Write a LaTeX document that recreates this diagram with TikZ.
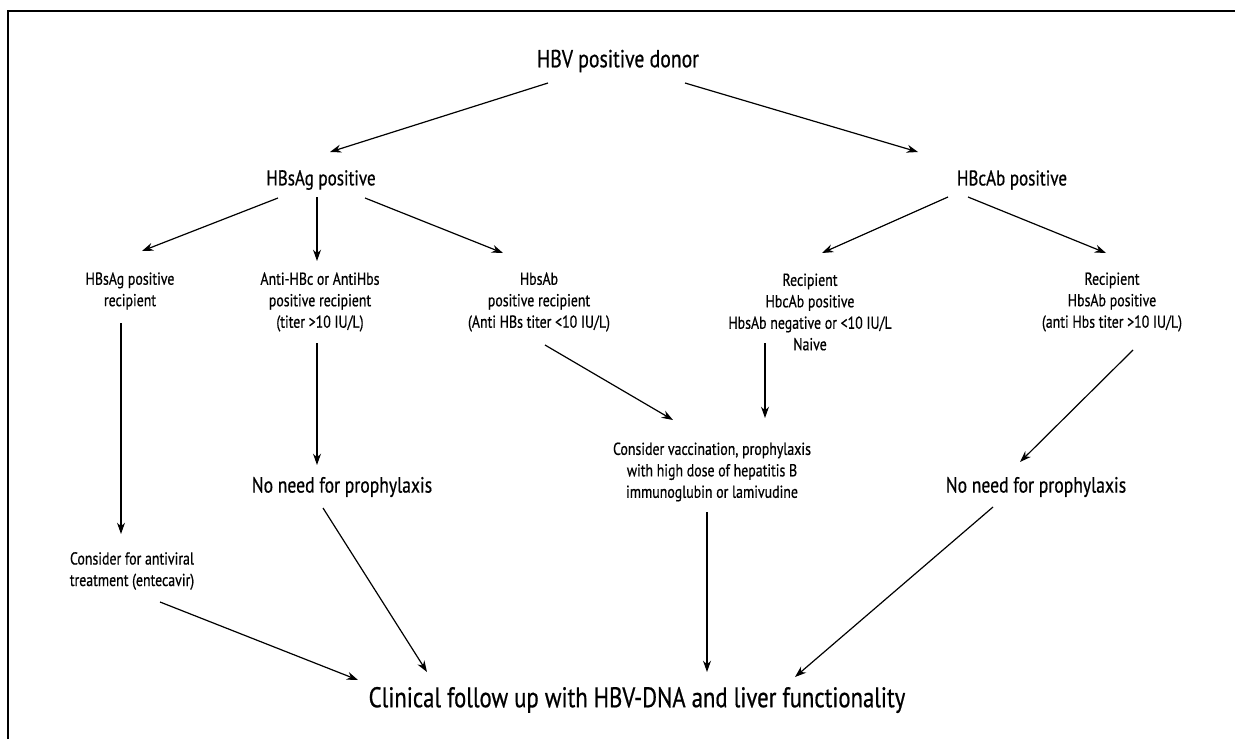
\documentclass[tikz,border=0pt]{standalone}
\usepackage{fontspec}
\setmainfont[FakeStretch=0.8,FakeBold=0.6]{PT Sans}
\usetikzlibrary{arrows.meta}
\begin{document}
\begin{tikzpicture}[x=0.75pt,y=-0.75pt,
  small/.style={inner sep=0pt,align=center,font=\fontsize{13}{16.1}\selectfont},
  top/.style={inner sep=0pt,font=\fontsize{18.5}{22}\selectfont},
  big/.style={inner sep=0pt,font=\fontsize{21.3}{25}\selectfont},
  mid/.style={inner sep=0pt,font=\fontsize{16}{19}\selectfont},
  noneed/.style={inner sep=0pt,font=\fontsize{16.5}{19}\selectfont},
  arr/.style={-{Stealth[length=8.5pt,width=6pt]},line width=0.9pt},
  frame/.style={line width=1.1pt}]
\useasboundingbox (0,0) rectangle (1235,739);
\coordinate (fb) at (8,739);
\coordinate (fc) at (8,11);
\coordinate (fr) at (1235,11);
\draw[frame] (fb) -- (fc) -- (fr);

\node[top] (donor) at (618,61) {HBV positive donor};
\node[mid] (hbsag) at (321,180) {HBsAg positive};
\node[mid] (hbcab) at (1012,180) {HBcAb positive};
\node[small] (r1) at (130,291) {HBsAg positive\\recipient};
\node[small] (r2) at (320,302) {Anti-HBc or AntiHbs\\positive recipient\\(titer >10 IU/L)};
\node[small] (r3) at (539,302) {HbsAb\\positive recipient\\(Anti HBs titer <10 IU/L)};
\node[small] (r4) at (810,312) {Recipient\\HbcAb positive\\HbsAb negative or <10 IU/L\\Naive};
\node[small] (r5) at (1112,302) {Recipient\\HbsAb positive\\(anti Hbs titer >10 IU/L)};
\node[noneed] (n1) at (342,487) {No need for prophylaxis};
\node[small] (cons) at (712,472) {Consider vaccination, prophylaxis\\with high dose of hepatitis B\\immunoglubin or lamivudine};
\node[noneed] (n2) at (1036,487) {No need for prophylaxis};
\node[small] (av) at (132,571) {Consider for antiviral\\treatment (entecavir)};
\node[big] (final) at (637,700) {Clinical follow up with HBV-DNA and liver functionality};

\draw[arr] ([shift={(-70,22)}]donor.center) -- ([shift={(9,-28)}]hbsag.center);
\draw[arr] ([shift={(67,22)}]donor.center) -- ([shift={(-94,-28)}]hbcab.center);
\draw[arr] ([shift={(-43,18)}]hbsag.center) -- ([shift={(12,-40)}]r1.center);
\draw[arr] ([shift={(-4,17)}]hbsag.center) -- ([shift={(-3,-41)}]r2.center);
\draw[arr] ([shift={(44,18)}]hbsag.center) -- ([shift={(-36,-49)}]r3.center);
\draw[arr] ([shift={(-64,17)}]hbcab.center) -- ([shift={(12,-59)}]r4.center);
\draw[arr] ([shift={(-44,17)}]hbcab.center) -- ([shift={(-6,-49)}]r5.center);
\draw[arr] ([shift={(-9,32)}]r1.center) -- ([shift={(-11,-37)}]av.center);
\draw[arr] ([shift={(-3,41)}]r2.center) -- ([shift={(-25,-22)}]n1.center);
\draw[arr] ([shift={(6,43)}]r3.center) -- ([shift={(-39,-52)}]cons.center);
\draw[arr] ([shift={(-45,31)}]r4.center) -- ([shift={(53,-54)}]cons.center);
\draw[arr] ([shift={(21,48)}]r5.center) -- ([shift={(-16,-25)}]n2.center);
\draw[arr] ([shift={(28,31)}]av.center) -- ([shift={(-279,-20)}]final.center);
\draw[arr] ([shift={(-19,21)}]n1.center) -- ([shift={(-210,-28)}]final.center);
\draw[arr] ([shift={(-5,40)}]cons.center) -- ([shift={(70,-28)}]final.center);
\draw[arr] ([shift={(-43,20)}]n2.center) -- ([shift={(158,-23)}]final.center);
\end{tikzpicture}
\end{document}
